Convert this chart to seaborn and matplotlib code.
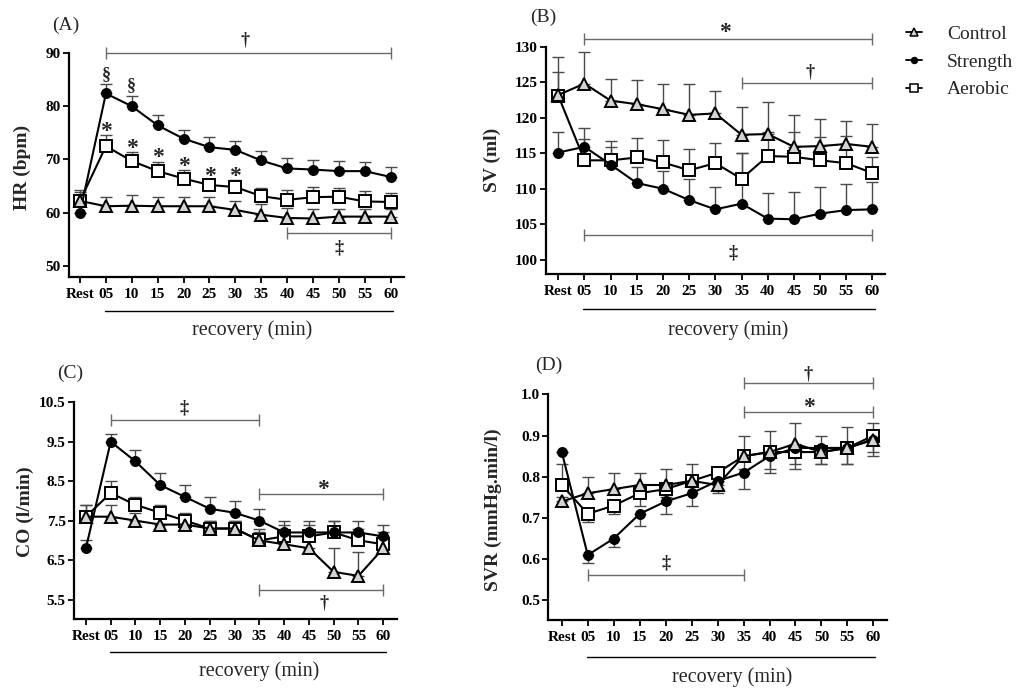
import numpy as np
import pandas as pd
import matplotlib
matplotlib.use("Agg")
import matplotlib.pyplot as plt
import matplotlib.transforms as mtransforms
from matplotlib.lines import Line2D
import seaborn as sns

# ---------------- data ----------------
times = ["Rest", "05", "10", "15", "20", "25", "30", "35", "40", "45", "50", "55", "60"]
groups = ["Control", "Strength", "Aerobic"]

# (A) HR (bpm)
hr_control = [62.2, 61.2, 61.3, 61.2, 61.2, 61.2, 60.5, 59.6, 59.0, 58.9, 59.25, 59.25, 59.25]
hr_control_sd = [1.6, 1.8, 1.95, 1.8, 1.8, 1.8, 1.7, 2.0, 1.9, 1.7, 1.5, 1.5, 1.4]
hr_strength = [60.0, 82.4, 80.0, 76.4, 73.9, 72.3, 71.8, 69.8, 68.3, 68.1, 67.8, 67.8, 66.7]
hr_strength_sd = [0.0, 1.8, 2.0, 2.0, 1.7, 1.9, 1.7, 1.8, 1.9, 1.8, 1.9, 1.7, 1.9]
hr_aerobic = [62.2, 72.5, 69.7, 67.8, 66.4, 65.2, 64.8, 63.1, 62.4, 62.9, 63.0, 62.1, 62.0]
hr_aerobic_sd = [2.0, 2.0, 1.7, 1.8, 1.6, 1.0, 1.3, 1.6, 1.9, 2.0, 1.7, 2.0, 1.75]

# (B) SV (ml)
sv_control = [123.2, 124.8, 122.4, 121.9, 121.2, 120.4, 120.6, 117.6, 117.7, 115.9, 116.0, 116.3, 115.9]
sv_control_sd = [5.4, 4.4, 3.0, 3.4, 3.6, 4.3, 3.2, 3.9, 4.5, 4.5, 3.8, 3.3, 3.2]
sv_strength = [115.1, 115.9, 113.4, 110.8, 110.0, 108.4, 107.1, 107.9, 105.8, 105.7, 106.5, 107.0, 107.1]
sv_strength_sd = [2.9, 2.6, 2.5, 2.3, 2.5, 3.0, 3.1, 7.1, 3.6, 3.9, 3.8, 3.7, 3.8]
sv_aerobic = [123.1, 114.0, 114.0, 114.4, 113.7, 112.6, 113.6, 111.4, 114.6, 114.5, 114.0, 113.6, 112.2]
sv_aerobic_sd = [3.4, 3.0, 2.7, 2.8, 3.2, 3.0, 2.9, 3.6, 3.4, 3.5, 3.3, 3.8, 2.3]

# (C) CO (l/min)
co_control = [7.6, 7.6, 7.5, 7.4, 7.4, 7.3, 7.3, 7.0, 6.9, 6.8, 6.2, 6.1, 6.8]
co_control_sd = [0.3, 0.3, 0.2, 0.2, 0.2, 0.2, 0.2, 0.2, 0.3, 0.3, 0.6, 0.6, 0.3]
co_strength = [6.8, 9.5, 9.0, 8.4, 8.1, 7.8, 7.7, 7.5, 7.2, 7.2, 7.2, 7.2, 7.1]
co_strength_sd = [0.2, 0.2, 0.3, 0.3, 0.3, 0.3, 0.3, 0.3, 0.3, 0.3, 0.3, 0.3, 0.3]
co_aerobic = [7.6, 8.2, 7.9, 7.7, 7.5, 7.3, 7.3, 7.0, 7.1, 7.1, 7.2, 7.0, 6.9]
co_aerobic_sd = [0.3, 0.3, 0.2, 0.2, 0.2, 0.2, 0.2, 0.3, 0.3, 0.3, 0.3, 0.3, 0.3]

# (D) SVR (mmHg.min/l)  (negative sd = bar drawn downwards)
svr_control = [0.74, 0.76, 0.77, 0.78, 0.78, 0.79, 0.78, 0.85, 0.86, 0.88, 0.86, 0.87, 0.89]
svr_control_sd = [0.01, 0.04, 0.04, 0.03, 0.04, 0.04, -0.02, 0.05, 0.05, 0.05, 0.04, 0.05, 0.04]
svr_strength = [0.86, 0.61, 0.65, 0.71, 0.74, 0.76, 0.79, 0.81, 0.85, 0.87, 0.87, 0.87, 0.89]
svr_strength_sd = [0.0, -0.02, -0.02, -0.03, -0.03, -0.03, -0.02, -0.04, -0.04, -0.05, -0.04, -0.04, -0.04]
svr_aerobic = [0.78, 0.71, 0.73, 0.76, 0.77, 0.79, 0.81, 0.85, 0.86, 0.86, 0.86, 0.87, 0.90]
svr_aerobic_sd = [0.05, -0.02, -0.02, -0.03, -0.02, 0.0, -0.02, -0.03, -0.04, -0.03, -0.03, -0.04, -0.04]

# significance brackets: (start index, end index, bracket level, symbol, label x index, label level)
hr_brackets = [(1, 12, 90.0, "\u2020", 6.37, 92.4), (8, 12, 56.25, "\u2021", 10.0, 53.4)]
sv_brackets = [(1, 12, 131.1, "*", 6.37, 132.8), (7, 12, 124.9, "\u2020", 9.6, 126.5),
               (1, 12, 103.5, "\u2021", 6.66, 101.0)]
co_brackets = [(1, 7, 10.05, "\u2021", 3.97, 10.35), (7, 12, 8.18, "*", 9.55, 8.45),
               (7, 12, 5.74, "\u2020", 9.6, 5.42)]
svr_brackets = [(7, 12, 1.027, "\u2020", 9.5, 1.05), (7, 12, 0.958, "*", 9.5, 0.982),
                (1, 7, 0.561, "\u2021", 4.0, 0.59)]

# point markers above single time points: (series, indices, symbol)
hr_point_marks = [("Strength", [1, 2], "\u00a7"), ("Aerobic", [1, 2, 3, 4, 5, 6], "*")]

# ---------------- style ----------------
sns.set_style("ticks")
plt.rcParams["font.family"] = ["Liberation Serif", "DejaVu Serif"]
plt.rcParams["axes.linewidth"] = 1.6
plt.rcParams["xtick.major.width"] = 1.3
plt.rcParams["ytick.major.width"] = 1.3
plt.rcParams["xtick.major.size"] = 4
plt.rcParams["ytick.major.size"] = 4
plt.rcParams["xtick.color"] = "black"
plt.rcParams["ytick.color"] = "black"
plt.rcParams["axes.edgecolor"] = "black"

styles = {
    "Aerobic": dict(marker="s", markersize=8.5, markerfacecolor="white"),
    "Strength": dict(marker="o", markersize=6.5, markerfacecolor="black"),
    "Control": dict(marker="^", markersize=9, markerfacecolor="#d4d4d4"),
}
draw_order = ["Aerobic", "Strength", "Control"]

fig = plt.figure(figsize=(10.21, 6.89), dpi=100)


def sym_text(ax, x, y, sym, **kw):
    """Place a significance symbol; '*' sits high in its glyph box, so nudge it down."""
    if sym == "*":
        tr = mtransforms.offset_copy(kw.pop("transform", ax.transData), fig=fig, x=0, y=-6,
                                     units="dots")
        ax.text(x, y, sym, transform=tr, ha="center", va="center", fontsize=17,
                fontweight="bold", clip_on=False, **kw)
    else:
        ax.text(x, y, sym, ha="center", va="center", fontsize=13, fontweight="bold",
                clip_on=False, **kw)


panels = [
    dict(tag="(A)", tagpos=(66, 25), pos=[0.0676, 0.598, 0.328, 0.325], xlim=(-0.425, 12.51),
         ylim=(47.9, 90), yticks=np.arange(50, 91, 10), fmt="{:.0f}", ylabel="HR (bpm)",
         ylab_xy=(-0.14, 0.49), rec_y=-0.152, rec_x=(0.97, 12.08), rec_txt=(6.64, -0.237),
         data={"Control": (hr_control, hr_control_sd), "Strength": (hr_strength, hr_strength_sd),
               "Aerobic": (hr_aerobic, hr_aerobic_sd)}, brackets=hr_brackets, marks=hr_point_marks,
         mark_off=1.8),
    dict(tag="(B)", tagpos=(543, 17), pos=[0.5345, 0.6023, 0.3323, 0.330], xlim=(-0.48, 12.48),
         ylim=(98, 130), yticks=np.arange(100, 131, 5), fmt="{:.0f}", ylabel="SV (ml)",
         ylab_xy=(-0.158, 0.50), rec_y=-0.154, rec_x=(0.96, 12.1), rec_txt=(6.48, -0.246),
         data={"Control": (sv_control, sv_control_sd), "Strength": (sv_strength, sv_strength_sd),
               "Aerobic": (sv_aerobic, sv_aerobic_sd)}, brackets=sv_brackets, marks=[], mark_off=0),
    dict(tag="(C)", tagpos=(70, 373), pos=[0.0725, 0.1012, 0.316, 0.315], xlim=(-0.48, 12.54),
         ylim=(5.0, 10.5), yticks=np.arange(5.5, 10.6, 1.0), fmt="{:.1f}", ylabel="CO (l/min)",
         ylab_xy=(-0.152, 0.494), rec_y=-0.151, rec_x=(0.97, 12.1), rec_txt=(7.0, -0.241),
         data={"Control": (co_control, co_control_sd), "Strength": (co_strength, co_strength_sd),
               "Aerobic": (co_aerobic, co_aerobic_sd)}, brackets=co_brackets, marks=[], mark_off=0),
    dict(tag="(D)", tagpos=(549, 365), pos=[0.537, 0.100, 0.3314, 0.3276], xlim=(-0.52, 12.51),
         ylim=(0.452, 1.0), yticks=np.arange(0.5, 1.01, 0.1), fmt="{:.1f}", ylabel="SVR (mmHg.min/l)",
         ylab_xy=(-0.163, 0.487), rec_y=-0.163, rec_x=(0.96, 12.06), rec_txt=(6.55, -0.251),
         data={"Control": (svr_control, svr_control_sd), "Strength": (svr_strength, svr_strength_sd),
               "Aerobic": (svr_aerobic, svr_aerobic_sd)}, brackets=svr_brackets, marks=[], mark_off=0),
]

W, H = 1021, 689
xpos = np.arange(len(times))

for p in panels:
    ax = fig.add_axes(p["pos"])
    # error bars
    for g in draw_order:
        vals, sd = p["data"][g]
        vals = np.asarray(vals, float)
        sd = np.asarray(sd, float)
        lo = np.where(sd < 0, -sd, 0.0)
        hi = np.where(sd > 0, sd, 0.0)
        ax.errorbar(xpos, vals, yerr=[lo, hi], fmt="none", ecolor="#4a4a4a", elinewidth=1.0,
                    capsize=4, capthick=1.0, zorder=1.5)
    # lines + markers
    for k, g in enumerate(draw_order):
        vals, sd = p["data"][g]
        df = pd.DataFrame({"x": xpos, "y": vals})
        sns.lineplot(data=df, x="x", y="y", ax=ax, color="black", linewidth=1.5,
                     markeredgecolor="black", markeredgewidth=1.4, zorder=3 + k,
                     **styles[g])
    ax.set_xlim(*p["xlim"])
    ax.set_ylim(*p["ylim"])
    ax.set_xticks(xpos)
    ax.set_xticklabels(times, fontsize=11, fontweight="bold")
    ax.set_yticks(p["yticks"])
    ax.set_yticklabels([p["fmt"].format(v) for v in p["yticks"]], fontsize=11, fontweight="bold")
    ax.tick_params(axis="x", pad=4)
    ax.tick_params(axis="y", pad=2)
    ax.set_xlabel("")
    ax.set_ylabel("")
    sns.despine(ax=ax)
    ax.text(p["ylab_xy"][0], p["ylab_xy"][1], p["ylabel"], transform=ax.transAxes, rotation=90,
            ha="center", va="center", fontsize=14, fontweight="bold")
    # recovery line & text
    tr = mtransforms.blended_transform_factory(ax.transData, ax.transAxes)
    ax.plot(list(p["rec_x"]), [p["rec_y"], p["rec_y"]], transform=tr, color="black", lw=1.0,
            clip_on=False)
    ax.text(p["rec_txt"][0], p["rec_txt"][1], "recovery (min)", transform=tr, ha="center",
            va="center", fontsize=14.5)
    # brackets
    for (i0, i1, lvl, sym, lx, ly) in p["brackets"]:
        ax.plot([xpos[i0], xpos[i1]], [lvl, lvl], color="#6a6a6a", lw=1.0, marker="|",
                markersize=8, markeredgewidth=1.0, clip_on=False, zorder=2)
        sym_text(ax, lx, ly, sym)
    # marks above points
    for (g, idxs, sym) in p["marks"]:
        vals, sd = p["data"][g]
        for i in idxs:
            sym_text(ax, xpos[i], vals[i] + abs(sd[i]) + p["mark_off"], sym)
    fig.text(p["tagpos"][0] / W, 1 - p["tagpos"][1] / H, p["tag"], ha="center", va="center",
             fontsize=14)

handles = [Line2D([], [], color="black", lw=1.3, marker=styles[g]["marker"],
                  markersize=styles[g]["markersize"] * 0.65,
                  markerfacecolor=styles[g]["markerfacecolor"], markeredgecolor="black",
                  markeredgewidth=1.1) for g in groups]
fig.legend(handles, groups, loc="upper left", bbox_to_anchor=(906 / W, 1 - 25 / H),
           frameon=False, fontsize=14, handlelength=0.8, handletextpad=1.3, labelspacing=0.53,
           borderpad=0, borderaxespad=0)

fig.savefig("out.png", dpi=100)
